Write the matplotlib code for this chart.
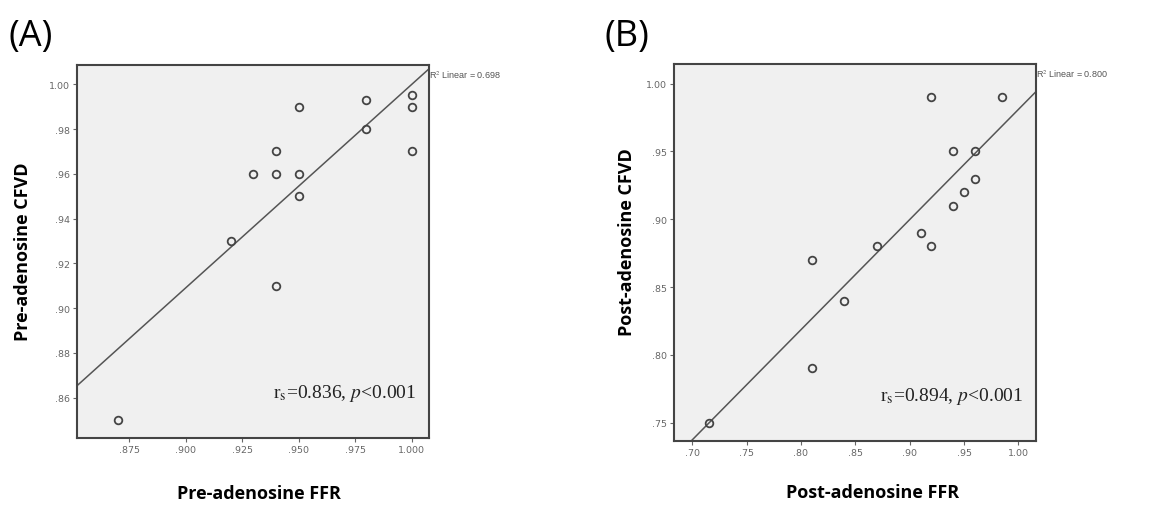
import numpy as np
import matplotlib
matplotlib.use("Agg")
import matplotlib.pyplot as plt

plt.rcParams['mathtext.fontset'] = 'stix'

# panel A: pre-adenosine
pre_ffr = [0.87, 0.92, 0.93, 0.94, 0.94, 0.94, 0.95, 0.95, 0.95, 0.98, 0.98, 1.00, 1.00, 1.00]
pre_cfvd = [0.85, 0.93, 0.96, 0.97, 0.96, 0.91, 0.99, 0.96, 0.95, 0.993, 0.98, 0.995, 0.99, 0.97]
pre_xticks = [0.875, 0.900, 0.925, 0.950, 0.975, 1.000]
pre_xlabels = [".875", ".900", ".925", ".950", ".975", "1.000"]
pre_yticks = [0.86, 0.88, 0.90, 0.92, 0.94, 0.96, 0.98, 1.00]
pre_ylabels = [".86", ".88", ".90", ".92", ".94", ".96", ".98", "1.00"]

# panel B: post-adenosine
post_ffr = [0.715, 0.81, 0.81, 0.84, 0.87, 0.91, 0.92, 0.92, 0.94, 0.94, 0.95, 0.96, 0.96, 0.985]
post_cfvd = [0.75, 0.79, 0.87, 0.84, 0.88, 0.89, 0.88, 0.99, 0.95, 0.91, 0.92, 0.95, 0.93, 0.99]
post_xticks = [0.70, 0.75, 0.80, 0.85, 0.90, 0.95, 1.00]
post_xlabels = [".70", ".75", ".80", ".85", ".90", ".95", "1.00"]
post_yticks = [0.75, 0.80, 0.85, 0.90, 0.95, 1.00]
post_ylabels = [".75", ".80", ".85", ".90", ".95", "1.00"]

r2_text = ["0.698", "0.800"]
rs_text = ["0.836", "0.894"]

fig = plt.figure(figsize=(11.68, 5.06), dpi=100)
W, H = 1168, 506

def add_ax(l, t, r, b):
    return fig.add_axes([l / W, 1 - b / H, (r - l) / W, (b - t) / H])

axA = add_ax(77, 66, 429, 439)
axB = add_ax(674, 65, 1036, 442)

panels = [
    (axA, pre_ffr, pre_cfvd, (0.8519, 1.0077), (0.842, 1.0086), pre_xticks, pre_xlabels,
     pre_yticks, pre_ylabels, "(A)", 0, 0),
    (axB, post_ffr, post_cfvd, (0.6832, 1.0162), (0.7365, 1.0145), post_xticks, post_xlabels,
     post_yticks, post_ylabels, "(B)", 1, 597),
]

for ax, x, y, xl, yl, xt, xtl, yt, ytl, tag, i, off in panels:
    ax.set_facecolor("#f0f0f0")
    ax.plot(x, y, "o", ms=5.5, mfc="none", mec="#444444", mew=1.3, zorder=3)
    # least-squares fit line, like the SPSS "Linear" fit
    k, c = np.polyfit(x, y, 1)
    xs = np.array(xl)
    ax.plot(xs, k * xs + c, color="#555555", lw=1.1, zorder=2)
    ax.set_xlim(xl)
    ax.set_ylim(yl)
    ax.set_xticks(xt)
    ax.set_xticklabels(xtl)
    ax.set_yticks(yt)
    ax.set_yticklabels(ytl)
    ax.tick_params(length=3, width=0.8, color="#666666", labelsize=6.8, labelcolor="#666666", pad=2)
    for s in ax.spines.values():
        s.set_color("#444444")
        s.set_linewidth(1.5)
    ax.text(1.0, 0.975, "R$^2$ Linear = " + r2_text[i], transform=ax.transAxes,
            fontsize=6.5, color="#555555", family="Liberation Sans", va="center", ha="left")
    ax.text(0.965, 0.11, r"r$_\mathrm{s}$=" + rs_text[i] + r", $p$<0.001", transform=ax.transAxes,
            fontsize=14, family="Liberation Serif", ha="right", va="baseline", color="#222222")
    fig.text((8 + off) / W, 1 - 37 / H, tag, fontsize=26, family="Open Sans", va="center", ha="left")

fig.text(23 / W, 1 - 252 / H, "Pre-adenosine CFVD", rotation=90, fontsize=13, fontweight="bold",
         family="Open Sans", va="center", ha="center")
fig.text(259 / W, 1 - 494 / H, "Pre-adenosine FFR", fontsize=13, fontweight="bold",
         family="Open Sans", va="center", ha="center")
fig.text(627 / W, 1 - 242 / H, "Post-adenosine CFVD", rotation=90, fontsize=13, fontweight="bold",
         family="Open Sans", va="center", ha="center")
fig.text(873 / W, 1 - 493 / H, "Post-adenosine FFR", fontsize=13, fontweight="bold",
         family="Open Sans", va="center", ha="center")

fig.savefig("out.png", dpi=100)
